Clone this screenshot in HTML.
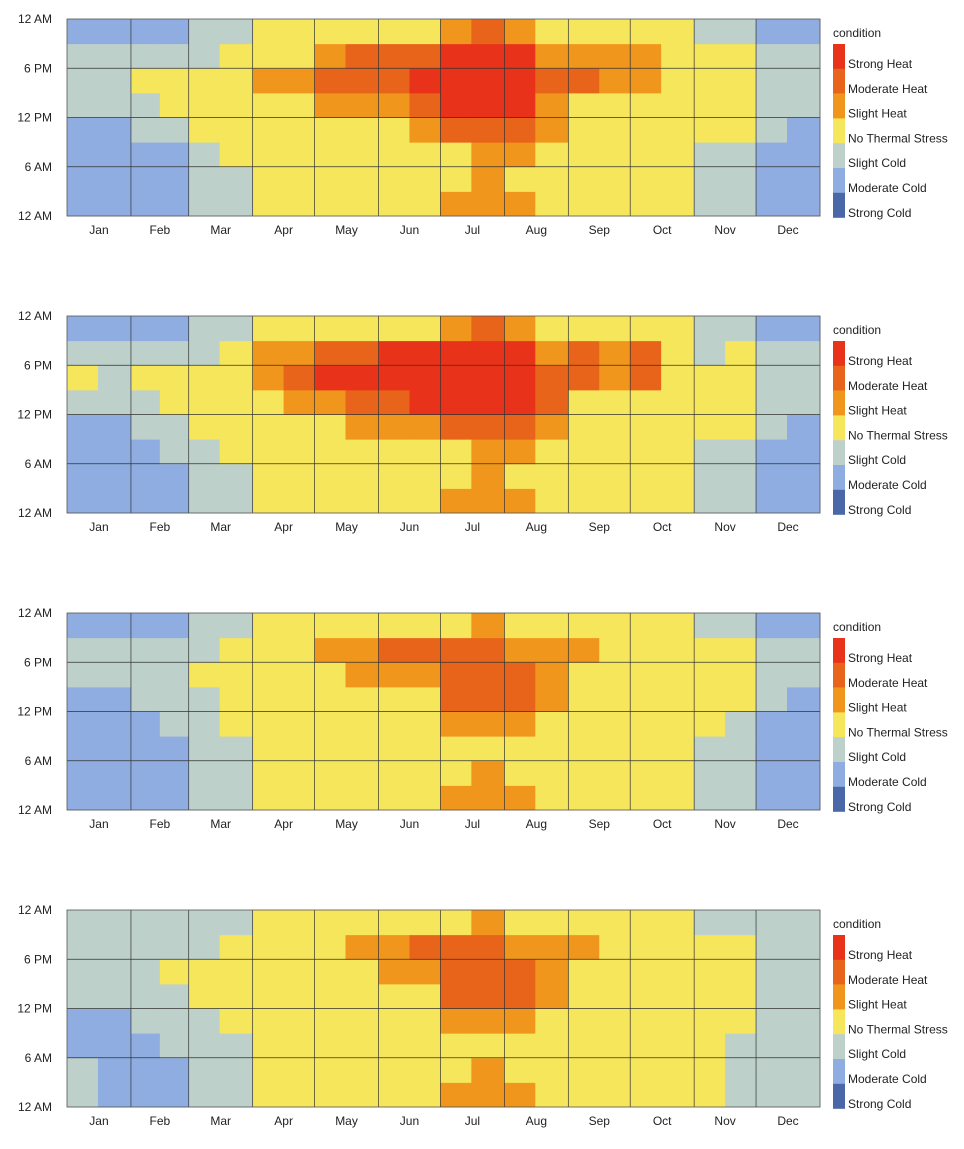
<!DOCTYPE html>
<html><head><meta charset="utf-8"><style>
body{margin:0;background:#fff;font-family:"Liberation Sans",sans-serif}
svg{display:block}
text{font-family:"Liberation Sans",sans-serif;font-size:12px;fill:#222}
</style></head><body>
<svg id="chart" width="964" height="1149" viewBox="0 0 964 1149"></svg>
<script>
const months=["Jan","Feb","Mar","Apr","May","Jun","Jul","Aug","Sep","Oct","Nov","Dec"];
const monthDays=[31,28,31,30,31,30,31,31,30,31,30,31];
const conditions=["Strong Cold","Moderate Cold","Slight Cold","No Thermal Stress","Slight Heat","Moderate Heat","Strong Heat"];
const colors=["#4a67a8","#8fade0","#bdd0ca","#f6e65c","#f0961c","#e8641a","#e8321a"];
const yTicks=["12 AM","6 AM","12 PM","6 PM","12 AM"];
// per panel: 24 half-month blocks, each string = 8 three-hour segments from midnight (bottom) upward, codes 1..7
const panel1=["22223332","22223332","22233432","22234432","33344433","33444443","44444544","44444544","44445654","44445664","44445664","44456764","54467775","55567776","54567775","44455654","44444654","44444554","44444554","44444444","33344443","33344443","22233332","22223332"];
const panel2=["22223432","22223332","22233432","22334432","33344433","33444443","44444554","44445654","44445764","44456764","44456774","44457774","54467775","55567776","54567775","44456654","44444664","44444554","44444664","44444444","33344433","33344443","22233332","22223332"];
const panel3=["22222332","22222332","22223332","22233332","33333433","33344443","44444444","44444444","44444454","44444554","44444564","44444564","54456664","55456665","54456654","44445554","44444454","44444444","44444444","44444444","33344443","33334443","22223332","22222332"];
const panel4=["33223333","22223333","22233333","22333433","33334433","33344443","44444444","44444444","44444444","44444454","44444554","44444564","54456664","55456665","54456654","44445554","44444454","44444444","44444444","44444444","44444443","33344443","33333333","33333333"];
const panels=[panel1,panel2,panel3,panel4];

const NS="http://www.w3.org/2000/svg";
const svg=document.getElementById("chart");
const L=67,R=820,H=197,tops=[19,316,613,910];
const cum=[0];monthDays.forEach(d=>cum.push(cum[cum.length-1]+d));
function xScale(day){return L+day*(R-L)/365;}
function yScale(top,hour){return top+H-hour*H/24;}
function mk(tag,attrs,parent){const e=document.createElementNS(NS,tag);for(const k in attrs)e.setAttribute(k,attrs[k]);parent.appendChild(e);return e;}

panels.forEach((data,p)=>{
  const top=tops[p];
  const g=mk("g",{},svg);
  
  
  data.forEach((str,b)=>{
    const m=Math.floor(b/2),half=b%2;
    const mid=Math.floor(monthDays[m]/2);
    const d0=cum[m]+(half?mid:0), d1=half?cum[m+1]:cum[m]+mid;
    for(let s=0;s<8;s++){
      const c=parseInt(str[s])-1;
      const x0=xScale(d0),x1=xScale(d1),y0=yScale(top,s*3+3),y1=yScale(top,s*3);
      const r=mk("rect",{x:x0,y:y0,width:x1-x0+0.5,height:y1-y0+0.5,fill:colors[c]},g);
      
      
    }
  });
  [6,12,18].forEach(h=>{const l=mk("line",{x1:L,x2:R,y1:yScale(top,h),y2:yScale(top,h),stroke:"#333","stroke-width":0.7},g);
    });
  for(let m=1;m<12;m++){const x=xScale(cum[m]);const l=mk("line",{x1:x,x2:x,y1:top,y2:top+H,stroke:"#333","stroke-width":0.7},g);
    }
  const fr=mk("rect",{x:L,y:top,width:R-L,height:H,fill:"none",stroke:"#555","stroke-width":0.8},g);
  
  yTicks.forEach((t,i)=>{const tx=mk("text",{x:52,y:yScale(top,i*6)+4,"text-anchor":"end"},g);tx.textContent=t;
    });
  months.forEach((mo,i)=>{const tx=mk("text",{x:xScale((cum[i]+cum[i+1])/2),y:top+215,"text-anchor":"middle"},g);tx.textContent=mo;
    });
  const lg=mk("g",{},g);
  
  
  const tt=mk("text",{x:833,y:top+18},lg);tt.textContent="condition";
  
  for(let i=0;i<7;i++){
    const ci=6-i;
    const sw=mk("rect",{x:833,y:top+25+i*24.8,width:12,height:25,fill:colors[ci]},lg);
    
    const lt=mk("text",{x:848,y:top+49+i*24.8},lg);lt.textContent=conditions[ci];
    
  }
});
</script>
</body></html>
